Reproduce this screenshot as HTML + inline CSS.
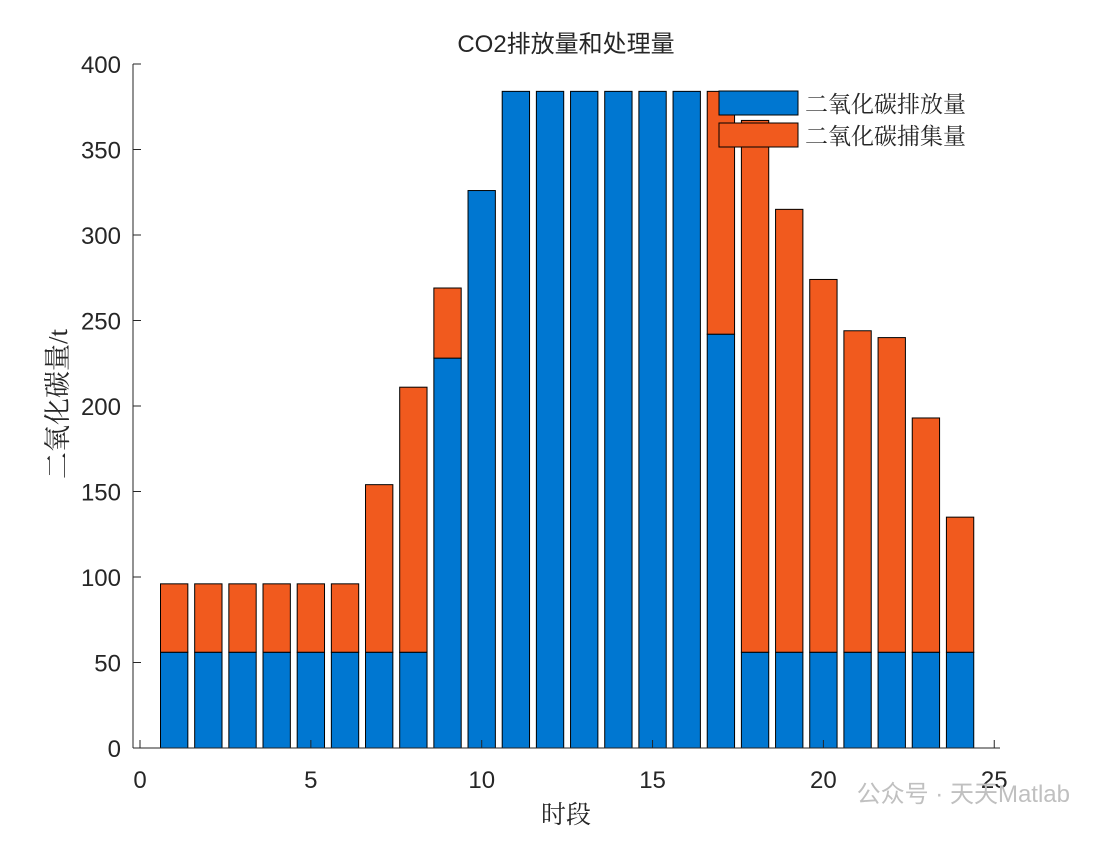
<!DOCTYPE html>
<html><head><meta charset="utf-8"><style>
body{margin:0;background:#fff}
svg text{font-family:"Liberation Sans","Noto Sans CJK SC",sans-serif;fill:#262626}
</style></head><body>
<svg width="1106" height="837" xmlns="http://www.w3.org/2000/svg">
<g id="bars"></g>
<g id="axes"></g>
<text x="566" y="52" font-size="24" text-anchor="middle">CO2排放量和处理量</text>
<text x="566" y="823" font-size="25" text-anchor="middle" style="font-family:'Noto Serif CJK SC',serif">时段</text>
<text transform="translate(67,404) rotate(-90)" font-size="27" text-anchor="middle" style="font-family:'Liberation Serif','Noto Serif CJK SC',serif">二氧化碳量/t</text>
<g>
<rect x="719" y="91" width="79" height="24" fill="#0077D1" stroke="#000" stroke-width="1"/>
<text x="805" y="112" font-size="23" style="font-family:'Noto Serif CJK SC',serif">二氧化碳排放量</text>
<rect x="719" y="123" width="79" height="24" fill="#F15A1E" stroke="#000" stroke-width="1"/>
<text x="805" y="144" font-size="23" style="font-family:'Noto Serif CJK SC',serif">二氧化碳捕集量</text>
</g>
<text x="1070" y="802" font-size="24" text-anchor="end" style="fill:#c0c0c0">公众号 · 天天Matlab</text>
</svg>
<script>
const periods=[1,2,3,4,5,6,7,8,9,10,11,12,13,14,15,16,17,18,19,20,21,22,23,24];
const emission=[56,56,56,56,56,56,56,56,228,326,384,384,384,384,384,384,242,56,56,56,56,56,56,56];
const capture=[40,40,40,40,40,40,98,155,41,0,0,0,0,0,0,0,142,311,259,218,188,184,137,79];
const xTicks=[0,5,10,15,20,25];
const yTicks=[0,50,100,150,200,250,300,350,400];
const NS="http://www.w3.org/2000/svg";
const X=v=>140+v*34.17, Y=v=>748-v*1.71;
const bg=document.getElementById('bars'), ax=document.getElementById('axes');
function mk(tag,at,parent){const e=document.createElementNS(NS,tag);for(const k in at)e.setAttribute(k,at[k]);parent.appendChild(e);return e;}
periods.forEach((p,i)=>{
  const w=0.8*34.17;
  const b=mk('rect',{x:X(p)-w/2,y:Y(emission[i]),width:w,height:Y(0)-Y(emission[i]),fill:'#0077D1',stroke:'#000','stroke-width':1},bg);
  
  
  if(capture[i]>0){
    const r=mk('rect',{x:X(p)-w/2,y:Y(emission[i]+capture[i]),width:w,height:Y(emission[i])-Y(emission[i]+capture[i]),fill:'#F15A1E',stroke:'#000','stroke-width':1},bg);
    
    
  }
});
mk('line',{x1:133,y1:64,x2:133,y2:748,stroke:'#262626'},ax);
mk('line',{x1:133,y1:748,x2:1000,y2:748,stroke:'#262626'},ax);
xTicks.forEach(t=>{
  mk('line',{x1:X(t),y1:748,x2:X(t),y2:740,stroke:'#262626'},ax);
  const tx=mk('text',{x:X(t),y:788,'font-size':24,'text-anchor':'middle'},ax);tx.textContent=t;
  
  
});
yTicks.forEach(t=>{
  mk('line',{x1:133,y1:Y(t),x2:141,y2:Y(t),stroke:'#262626'},ax);
  const tx=mk('text',{x:121,y:Y(t)+9,'font-size':24,'text-anchor':'end'},ax);tx.textContent=t;
  
  
});
</script>
</body></html>
